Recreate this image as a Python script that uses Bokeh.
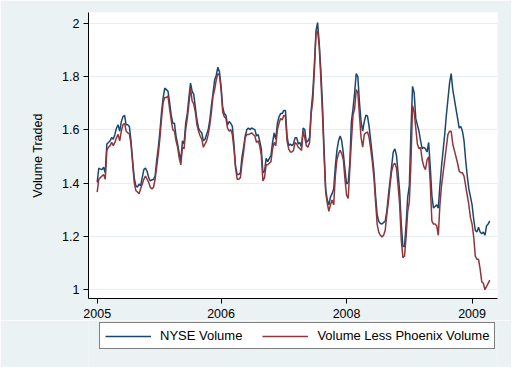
from bokeh.plotting import figure
from bokeh.layouts import column
from bokeh.models import Range1d, FixedTicker, CustomJSTickFormatter, Legend, LegendItem
from bokeh.embed import file_html
from bokeh.resources import INLINE

nyse_volume = [
    1.403, 1.457, 1.453, 1.451, 1.460, 1.439, 1.547, 1.553, 1.559, 1.571, 1.565, 1.583, 1.607, 1.619, 1.595, 1.631,
    1.649, 1.655, 1.619, 1.619, 1.613, 1.559, 1.487, 1.421, 1.391, 1.385, 1.397, 1.391, 1.421, 1.451, 1.457, 1.445,
    1.421, 1.409, 1.412, 1.415, 1.427, 1.487, 1.535, 1.595, 1.667, 1.721, 1.757, 1.751, 1.745, 1.703, 1.655, 1.625,
    1.625, 1.577, 1.547, 1.511, 1.487, 1.559, 1.547, 1.625, 1.661, 1.721, 1.775, 1.745, 1.733, 1.685, 1.637, 1.607,
    1.595, 1.589, 1.559, 1.565, 1.583, 1.601, 1.637, 1.691, 1.739, 1.787, 1.805, 1.835, 1.817, 1.763, 1.685, 1.661,
    1.655, 1.619, 1.631, 1.625, 1.613, 1.547, 1.463, 1.433, 1.433, 1.439, 1.499, 1.535, 1.577, 1.601, 1.607, 1.601,
    1.607, 1.604,
    1.601, 1.577, 1.583, 1.559, 1.529, 1.439, 1.445, 1.493, 1.481, 1.493, 1.505, 1.553, 1.589, 1.565, 1.625, 1.649,
    1.661, 1.661, 1.673, 1.673, 1.577, 1.541, 1.547, 1.541, 1.547, 1.571, 1.571, 1.547, 1.553, 1.535, 1.607, 1.601,
    1.553, 1.559, 1.571, 1.673, 1.739, 1.847, 1.972, 2.002, 1.924, 1.823, 1.697, 1.529, 1.379, 1.337, 1.319, 1.349,
    1.361,
    1.379, 1.463, 1.523, 1.559, 1.577, 1.559, 1.511, 1.451, 1.397, 1.403, 1.475, 1.631, 1.679, 1.739, 1.811, 1.799,
    1.703, 1.631, 1.595, 1.631, 1.655, 1.652, 1.613, 1.559, 1.505, 1.445, 1.355, 1.283, 1.257, 1.249, 1.247, 1.253,
    1.257, 1.295, 1.355, 1.409, 1.463, 1.517, 1.529, 1.505, 1.439, 1.367, 1.247, 1.163, 1.163, 1.247, 1.349, 1.391,
    1.595, 1.763, 1.739,
    1.643, 1.619, 1.595, 1.559, 1.529, 1.535, 1.529, 1.517, 1.553, 1.463, 1.355, 1.307, 1.313, 1.319, 1.307, 1.391,
    1.463, 1.523, 1.583, 1.655, 1.715, 1.775, 1.811, 1.751, 1.715, 1.679, 1.643, 1.607, 1.613, 1.595, 1.559, 1.487,
    1.427, 1.379, 1.349, 1.319, 1.265, 1.223, 1.217, 1.235, 1.217, 1.211, 1.217, 1.205, 1.241, 1.247, 1.259,
]
less_phoenix = [
    1.367, 1.415, 1.421, 1.427, 1.433, 1.415, 1.523, 1.535, 1.541, 1.553, 1.541, 1.553, 1.571, 1.583, 1.559, 1.595,
    1.619, 1.625, 1.595, 1.589, 1.585, 1.547, 1.475, 1.403, 1.373, 1.367, 1.361, 1.379, 1.397, 1.415, 1.427, 1.415,
    1.403, 1.385, 1.379, 1.385, 1.415, 1.463, 1.511, 1.571, 1.643, 1.703, 1.721, 1.721, 1.727, 1.679, 1.637, 1.601,
    1.595, 1.559, 1.535, 1.493, 1.469, 1.535, 1.529, 1.601, 1.643, 1.697, 1.757, 1.709, 1.697, 1.667, 1.619, 1.595,
    1.577, 1.565, 1.535, 1.547, 1.559, 1.583, 1.619, 1.667, 1.727, 1.751, 1.787, 1.811, 1.805, 1.751, 1.667, 1.649,
    1.643, 1.607, 1.595, 1.601, 1.583, 1.529, 1.457, 1.415, 1.415, 1.421, 1.475, 1.517, 1.571, 1.583, 1.583, 1.585,
    1.589, 1.583,
    1.577, 1.553, 1.559, 1.541, 1.505, 1.409, 1.421, 1.469, 1.469, 1.475, 1.481, 1.529, 1.553, 1.541, 1.601, 1.625,
    1.643, 1.637, 1.655, 1.649, 1.559, 1.529, 1.517, 1.517, 1.523, 1.553, 1.547, 1.535, 1.529, 1.523, 1.595, 1.571,
    1.541, 1.535, 1.553, 1.661, 1.709, 1.823, 1.960, 1.972, 1.912, 1.793, 1.661, 1.505, 1.367, 1.325, 1.295, 1.319,
    1.337,
    1.319, 1.427, 1.487, 1.511, 1.523, 1.511, 1.487, 1.415, 1.355, 1.343, 1.451, 1.559, 1.655, 1.679, 1.751, 1.739,
    1.655, 1.571, 1.535, 1.583, 1.589, 1.592, 1.571, 1.529, 1.481, 1.421, 1.331, 1.247, 1.217, 1.205, 1.199, 1.205,
    1.223, 1.283, 1.331, 1.391, 1.445, 1.469, 1.475, 1.457, 1.391, 1.319, 1.187, 1.121, 1.127, 1.199, 1.295, 1.331,
    1.475, 1.691, 1.667,
    1.607, 1.547, 1.529, 1.535, 1.487, 1.463, 1.451, 1.487, 1.499, 1.403, 1.259, 1.247, 1.247, 1.241, 1.205, 1.319,
    1.391, 1.439, 1.487, 1.535, 1.583, 1.595, 1.595, 1.547, 1.523, 1.499, 1.475, 1.445, 1.439, 1.439, 1.427, 1.391,
    1.355, 1.319, 1.271, 1.247, 1.199, 1.127, 1.115, 1.115, 1.079, 1.031, 1.025, 1.001, 1.013, 1.025, 1.037,
]
weeks = list(range(len(nyse_volume)))

x_tick_positions = [0, 77, 155, 233]
x_tick_labels = ["2005", "2006", "2008", "2009"]
y_ticks = [1, 1.2, 1.4, 1.6, 1.8, 2]
series_names = ["NYSE Volume", "Volume Less Phoenix Volume"]
series_colors = ["#1A476F", "#90353B"]

BG = "#EAF2F3"
FONT = "Liberation Sans"
FS = "12.5px"
W, H_MAIN, H_LEG = 511, 320, 47

p = figure(width=W, height=H_MAIN, output_backend="svg", toolbar_location=None,
           x_range=Range1d(-5.4, 248.8), y_range=Range1d(0.968, 2.04),
           min_border_left=88, min_border_top=12, min_border_right=14, min_border_bottom=22)
p.background_fill_color = "white"
p.border_fill_color = BG
p.outline_line_color = None

p.line(weeks, nyse_volume, line_color=series_colors[0], line_width=1.5)
p.line(weeks, less_phoenix, line_color=series_colors[1], line_width=1.5)

p.xgrid.visible = False
p.ygrid.grid_line_color = "#E6EEF0"
p.ygrid.grid_line_width = 1

p.xaxis.ticker = FixedTicker(ticks=x_tick_positions)
p.xaxis.major_label_overrides = {k: v for k, v in zip(x_tick_positions, x_tick_labels)}
p.yaxis.ticker = FixedTicker(ticks=y_ticks)
p.yaxis.formatter = CustomJSTickFormatter(code="return Number(tick.toFixed(1)).toString();")

for ax in (p.xaxis[0], p.yaxis[0]):
    ax.axis_line_color = "black"
    ax.axis_line_width = 1
    ax.major_tick_line_color = "black"
    ax.major_tick_out = 5
    ax.major_tick_in = 0
    ax.minor_tick_line_color = None
    ax.major_label_text_font = FONT
    ax.major_label_text_font_size = FS
    ax.major_label_text_color = "black"
p.xaxis.major_label_standoff = 5
p.yaxis.major_label_standoff = 4

p.yaxis.axis_label = "Volume Traded"
p.yaxis.axis_label_text_font = FONT
p.yaxis.axis_label_text_font_size = FS
p.yaxis.axis_label_text_font_style = "normal"
p.yaxis.axis_label_text_color = "black"
p.yaxis.axis_label_standoff = 14
p.yaxis.major_label_orientation = "horizontal"

# Legend strip below the chart (its frame is aligned with the chart's frame)
lg = figure(width=W, height=H_LEG, output_backend="svg", toolbar_location=None,
            x_axis_type=None, y_axis_type=None, x_range=Range1d(0, 1), y_range=Range1d(0, 1),
            min_border=0, min_border_left=0, min_border_right=0, min_border_top=0, min_border_bottom=0)
lg.background_fill_color = BG
lg.border_fill_color = BG
lg.outline_line_color = None
lg.xgrid.visible = False
lg.ygrid.visible = False
# key renderers: their data lie outside the visible range, only the legend shows them
k1 = lg.line([5, 6], [5, 6], line_color=series_colors[0], line_width=1.5)
k2 = lg.line([5, 6], [5, 6], line_color=series_colors[1], line_width=1.5)

legend = Legend(items=[LegendItem(label=series_names[0], renderers=[k1]),
                       LegendItem(label=series_names[1], renderers=[k2])],
                orientation="horizontal", location=(11, 18))
legend.label_text_font = FONT
legend.label_text_font_size = "13px"
legend.label_text_color = "black"
legend.glyph_width = 46
legend.glyph_height = 14
legend.label_standoff = 9
legend.spacing = 20
legend.padding = 5
legend.margin = 0
legend.border_line_color = "black"
legend.border_line_width = 1
legend.background_fill_color = "white"
legend.background_fill_alpha = 1
lg.add_layout(legend, "center")

layout = column(p, lg, spacing=0)
open("out.html", "w").write(file_html(layout, INLINE))
